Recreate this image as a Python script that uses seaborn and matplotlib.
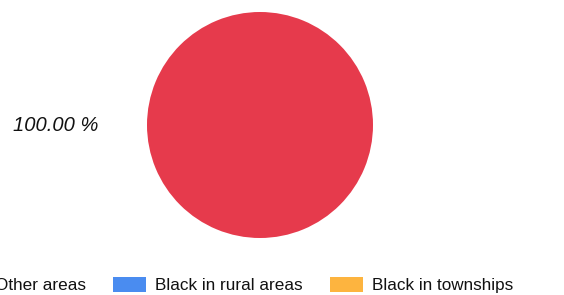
import matplotlib
matplotlib.use("Agg")
import matplotlib.pyplot as plt
from matplotlib.patches import Patch
import seaborn as sns

categories = ["Other areas", "Black in rural areas", "Black in townships"]
values = [100.0, 0.0, 0.0]
colors = ["#E63A4C", "#4A8CF0", "#FDB43F"]


def main():
    sns.set_theme(style="white")
    plt.rcParams["font.family"] = ["Liberation Sans", "DejaVu Sans"]

    fig = plt.figure(figsize=(5.64, 2.95), dpi=100)
    # pie centre (260,125) px, radius 113 px
    ax = fig.add_axes([(260 - 113) / 564, (295 - 238) / 295, 226 / 564, 226 / 295])

    total = sum(values)
    labels = [f"{v / total * 100:.2f} %" if v > 0 else "" for v in values]
    wedges, texts = ax.pie(values, colors=colors, labels=labels, startangle=0,
                           counterclock=True, labeldistance=1.43,
                           wedgeprops={"linewidth": 0})
    for t in texts:
        t.set_fontsize(14.5)
        t.set_fontstyle("italic")
        t.set_color("#111111")
    ax.set_xlim(-1, 1)
    ax.set_ylim(-1, 1)
    ax.set_aspect("equal")
    ax.axis("off")

    handles = [Patch(facecolor=c, edgecolor="none") for c in colors]
    fig.legend(handles, categories, loc="center", ncol=3,
               bbox_to_anchor=(233 / 564, 1 - 285 / 295), frameon=False,
               fontsize=12.3, handlelength=1.93, handleheight=0.94,
               handletextpad=0.53, columnspacing=1.58, borderpad=0,
               labelcolor="#111111")

    fig.savefig("out.png", dpi=100)


if __name__ == "__main__":
    main()
